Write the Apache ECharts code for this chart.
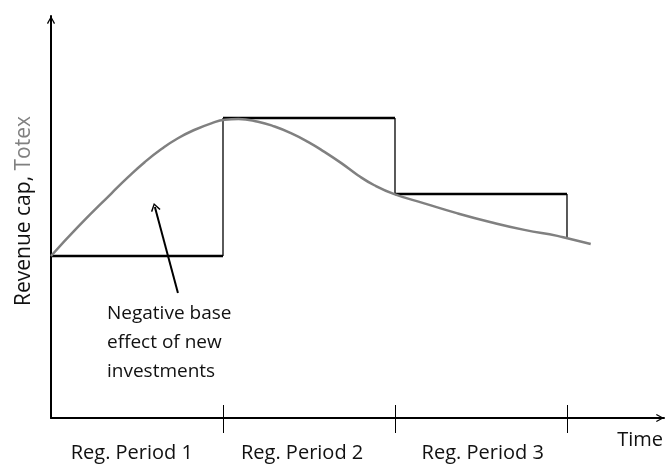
<!DOCTYPE html>
<html>
<head>
<meta charset="utf-8">
<script src="https://cdn.jsdelivr.net/npm/echarts@6/dist/echarts.min.js"></script>
<style>
html,body{margin:0;padding:0;background:#fff;}
#chart{width:666px;height:464px;}
</style>
</head>
<body>
<div id="chart"></div>
<script>
// Period boundaries (time units) and regulated revenue cap level per period
var periodStarts = [0, 5, 10];
var periodEnds = [5, 10, 15];
var revenueCap = [40.3, 74.6, 55.7];
var totexAtPeriodEnd = 44.7;
// Totex curve (time, value)
var totexX = [0, 0.79, 1.76, 2.24, 2.73, 3.21, 3.69, 4.18, 4.66, 5.05, 5.45, 6.02, 6.50, 6.99, 7.47, 7.95, 8.44, 8.92, 9.40, 9.98, 10.85, 11.82, 12.79, 13.76, 14.72, 15.01, 15.69];
var totexY = [40.3, 47.6, 55.9, 59.9, 63.7, 66.9, 69.6, 71.7, 73.3, 74.2, 74.4, 73.7, 72.5, 70.8, 68.7, 66.2, 63.4, 60.4, 57.9, 55.7, 53.4, 50.9, 48.7, 46.8, 45.3, 44.7, 43.3];
// Axis ticks and labels
var tickValues = [5, 10, 15];
var periodLabelPos = [2.35, 7.3, 12.55];
var periodLabels = ['Reg. Period 1', 'Reg. Period 2', 'Reg. Period 3'];
// Annotation arrow (from, to) in data units
var annotFrom = [3.69, 31.1];
var annotTo = [3.02, 52.5];
var annotText = 'Negative base\neffect of new\ninvestments';

var FONT = 'Open Sans';
var chevron = 'path://M0,9 L5,0 L10,9 L8.6,9.8 L5,2.8 L1.4,9.8 Z';

// build step segments
var horiz = [];
var vert = [];
for (var i = 0; i < periodStarts.length; i++) {
  horiz.push([periodStarts[i], revenueCap[i]]);
  horiz.push([periodEnds[i], revenueCap[i]]);
  horiz.push([null, null]);
  var next = i + 1 < revenueCap.length ? revenueCap[i + 1] : totexAtPeriodEnd;
  vert.push([periodEnds[i], revenueCap[i]]);
  vert.push([periodEnds[i], next]);
  vert.push([null, null]);
}
var curve = totexX.map(function (x, k) { return [x, totexY[k]]; });

var chart = echarts.init(document.getElementById('chart'));
chart.setOption({
  animation: false,
  grid: {left: 51, right: 1, top: 16, bottom: 46},
  xAxis: [{
    type: 'value', min: 0, max: 17.82, position: 'bottom',
    axisLine: {show: true, lineStyle: {color: '#000', width: 2}, symbol: ['none', chevron], symbolSize: [10, 8], symbolOffset: [0, -4]},
    axisTick: {show: true, customValues: tickValues, length: 15, lineStyle: {color: '#000', width: 1}},
    axisLabel: {
      show: true, customValues: periodLabelPos, margin: 25,
      fontFamily: FONT, fontSize: 20, color: '#111',
      formatter: function (v) {
        var best = 0;
        for (var j = 1; j < periodLabelPos.length; j++) {
          if (Math.abs(periodLabelPos[j] - v) < Math.abs(periodLabelPos[best] - v)) best = j;
        }
        return periodLabels[best];
      }
    },
    splitLine: {show: false},
    name: 'Time', nameLocation: 'end', nameGap: -1,
    nameTextStyle: {fontFamily: FONT, fontSize: 20, color: '#111', align: 'right', verticalAlign: 'top', padding: [12, 0, 0, 0]}
  }, {
    type: 'value', min: 0, max: 17.82, position: 'bottom', offset: 0,
    axisLine: {show: false},
    axisTick: {show: true, inside: true, customValues: tickValues, length: 13, lineStyle: {color: '#000', width: 1}},
    axisLabel: {show: false},
    splitLine: {show: false}
  }],
  yAxis: {
    type: 'value', min: 0, max: 100,
    axisLine: {show: true, lineStyle: {color: '#000', width: 2}, symbol: ['none', chevron], symbolSize: [10, 8], symbolOffset: [0, -4]},
    axisTick: {show: false}, axisLabel: {show: false}, splitLine: {show: false},
    name: 'Revenue cap, {g|Totex}', nameLocation: 'middle', nameGap: 16, nameRotate: 90,
    nameTextStyle: {fontFamily: FONT, fontSize: 21, color: '#111', padding: [0, 0, 0, 12],
      rich: {g: {fontFamily: FONT, fontSize: 21, color: '#808080'}}}
  },
  series: [{
    type: 'line', data: horiz, showSymbol: false, connectNulls: false,
    lineStyle: {color: '#000', width: 2.5}, z: 2,
    markLine: {
      silent: true, symbol: ['none', chevron], symbolSize: [10, 8],
      lineStyle: {color: '#000', width: 2, type: 'solid'}, label: {show: false},
      data: [[{coord: annotFrom}, {coord: annotTo}]]
    }
  }, {
    type: 'line', data: vert, showSymbol: false, connectNulls: false,
    lineStyle: {color: '#000', width: 1.3}, z: 2
  }, {
    type: 'line', data: curve, showSymbol: false, smooth: 0.5,
    lineStyle: {color: '#808080', width: 2.5}, z: 3
  }],
  graphic: [{
    type: 'text', left: 107, top: 299,
    style: {text: annotText, fontFamily: FONT, fontSize: 19, lineHeight: 29, fill: '#111'}
  }]
});
</script>
</body>
</html>
